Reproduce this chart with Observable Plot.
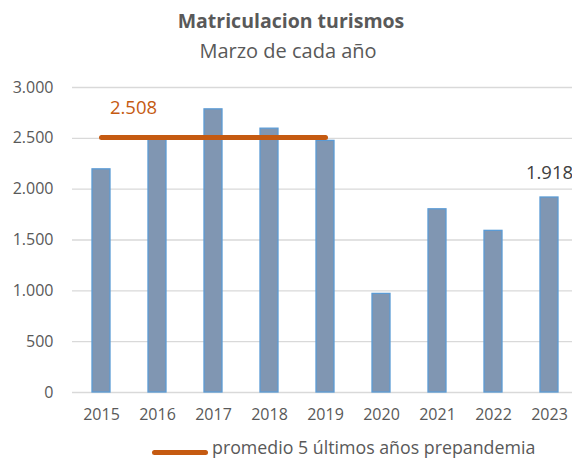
<!DOCTYPE html>
<html>
<head>
<meta charset="utf-8">
<script src="https://cdn.jsdelivr.net/npm/d3@7"></script>
<script src="https://cdn.jsdelivr.net/npm/@observablehq/plot@0.6"></script>
<style>
  html, body { margin: 0; padding: 0; background: #fff; }
  #wrap { width: 572px; height: 461px; position: relative; font-family: "Open Sans", sans-serif; color: #595959; overflow: hidden; }
  #title { position: absolute; left: 0; width: 582px; top: 8px; text-align: center; font-weight: bold; font-size: 19.5px; line-height: 26px; }
  #subtitle { position: absolute; left: 0; width: 576px; top: 38px; text-align: center; font-size: 20px; line-height: 26px; }
  #chart { position: absolute; left: 0; top: 70px; }
  #legend { position: absolute; left: 152px; top: 437px; font-size: 17.8px; line-height: 20px; color: #595959; white-space: nowrap; }
  #legend .sw { display: inline-block; width: 56px; height: 5px; border-radius: 3px; background: #C55A11; vertical-align: middle; margin-right: 4px; position: relative; top: 3px; }
</style>
</head>
<body>
<div id="wrap">
  <div id="title">Matriculacion turismos</div>
  <div id="subtitle">Marzo de cada año</div>
  <div id="chart"></div>
  <div id="legend"><span class="sw"></span>promedio 5 últimos años prepandemia</div>
</div>
<script>
const years = ["2015", "2016", "2017", "2018", "2019", "2020", "2021", "2022", "2023"];
const matriculaciones = [2195, 2490, 2785, 2595, 2475, 970, 1802, 1590, 1918];
const promedioYears = ["2015", "2016", "2017", "2018", "2019"];
const promedioValue = 2508;
const yTicks = [0, 500, 1000, 1500, 2000, 2500, 3000];

const fmt = d => d3.format(",")(d).replace(/,/g, ".");

const bars = years.map((y, i) => ({year: y, value: matriculaciones[i]}));
const avg = promedioYears.map(y => ({year: y, value: promedioValue}));
const lastBar = [bars[bars.length - 1]];

const chart = Plot.plot({
  width: 572,
  height: 361,
  marginTop: 17,
  marginBottom: 39,
  marginLeft: 72,
  marginRight: -5,
  style: {fontFamily: "Open Sans, sans-serif", fontSize: "16px", color: "#595959", background: "#fff", overflow: "visible"},
  x: {domain: years, paddingInner: 0.68, paddingOuter: 0.34, label: null, tickSize: 0, tickPadding: 16},
  y: {domain: [0, 3000], ticks: yTicks, label: null, tickSize: 0, tickPadding: 19, tickFormat: fmt},
  marks: [
    Plot.ruleY(yTicks, {stroke: "#D9D9D9", strokeWidth: 1.3}),
    Plot.barY(bars, {x: "year", y: "value", fill: "#8096B2", stroke: "#5B9BD5", strokeWidth: 1.3}),
    Plot.line(avg, {x: "year", y: "value", stroke: "#C55A11", strokeWidth: 5, strokeLinecap: "round"}),
    Plot.text([avg[0]], {x: "year", y: "value", text: d => fmt(d.value), dx: 32, dy: -29, fill: "#C55A11", fontSize: 18.5}),
    Plot.text(lastBar, {x: "year", y: "value", text: d => fmt(d.value), dy: -24, fill: "#404040", fontSize: 18.5})
  ]
});
document.getElementById("chart").appendChild(chart);
</script>
</body>
</html>
